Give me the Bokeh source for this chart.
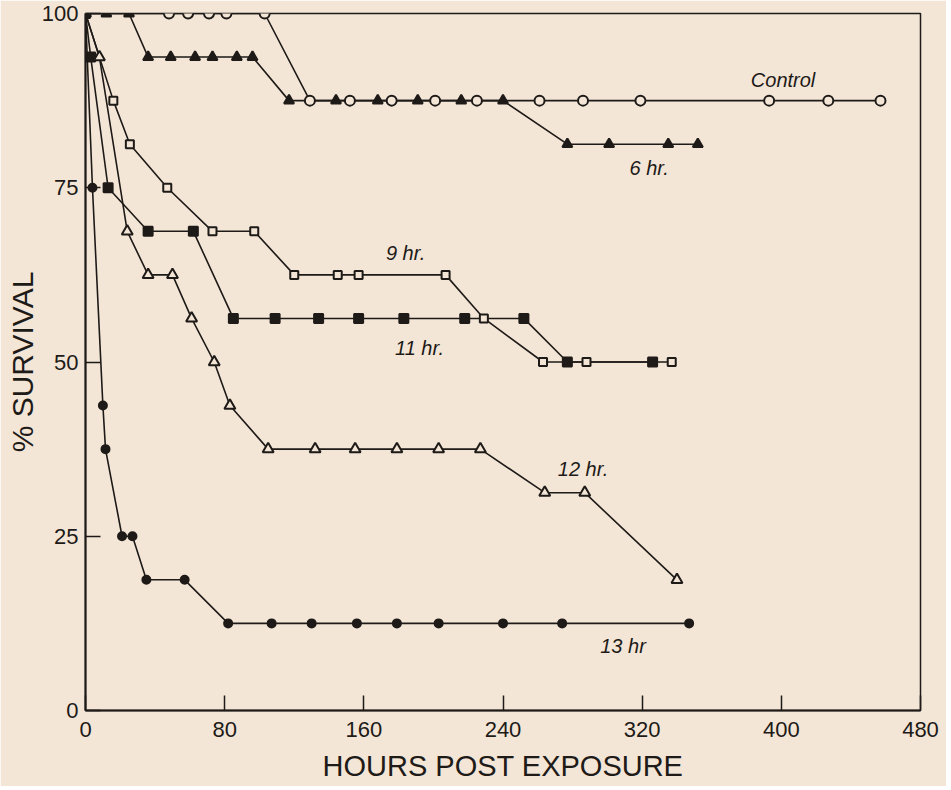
import math
from bokeh.plotting import figure
from bokeh.models import Range1d, Label, FixedTicker
from bokeh.embed import file_html
from bokeh.resources import INLINE

# ---- data (hours post exposure, % survival) ----
control_x = [0, 48, 59, 71, 81, 103, 129, 152, 176, 201, 225, 261, 286, 319, 393, 427, 457]
control_y = [100, 100, 100, 100, 100, 100, 87.5, 87.5, 87.5, 87.5, 87.5, 87.5, 87.5, 87.5, 87.5, 87.5, 87.5]

h6_x = [0, 12, 25, 36, 49, 63, 73, 87, 96, 117, 144, 168, 191, 216, 240, 277, 301, 335, 352]
h6_y = [100, 100, 100, 93.75, 93.75, 93.75, 93.75, 93.75, 93.75,
        87.5, 87.5, 87.5, 87.5, 87.5, 87.5, 81.25, 81.25, 81.25, 81.25]

h9_x = [0, 16, 25.5, 47, 73, 97, 120, 145, 157, 207, 229, 263, 288, 337]
h9_y = [100, 87.5, 81.25, 75, 68.75, 68.75, 62.5, 62.5, 62.5, 62.5, 56.25, 50, 50, 50]

h11_x = [0, 3, 13, 36, 62, 85, 109, 134, 157, 183, 218, 252, 277, 326]
h11_y = [100, 93.75, 75, 68.75, 68.75, 56.25, 56.25, 56.25, 56.25, 56.25, 56.25, 56.25, 50, 50]

h12_x = [0, 8, 24, 36, 50, 61, 74, 83, 105, 132, 155, 179, 203, 227, 264, 287, 340]
h12_y = [100, 93.75, 68.75, 62.5, 62.5, 56.25, 50, 43.75, 37.5, 37.5, 37.5, 37.5, 37.5, 37.5,
         31.25, 31.25, 18.75]

h13_x = [0, 4, 10, 11.5, 21, 27, 35, 57, 82, 107, 130, 156, 179, 203, 240, 274, 347]
h13_y = [100, 75, 43.75, 37.5, 25, 25, 18.75, 18.75, 12.5, 12.5, 12.5, 12.5, 12.5, 12.5,
         12.5, 12.5, 12.5]

label_texts = ["Control", "6 hr.", "9 hr.", "11 hr.", "12 hr.", "13 hr"]
label_x = [401, 324, 184, 192, 286, 309]
label_y = [90.4, 77.8, 65.7, 52, 34.6, 9.3]

x_ticks = [0, 80, 160, 240, 320, 400, 480]
y_ticks = [0, 25, 50, 75, 100]

BG = "#f3e6d6"
INK = "#1e1a18"
FONT = "Liberation Sans"

p = figure(width=946, height=786, output_backend="svg", toolbar_location=None,
           x_range=Range1d(0, 480), y_range=Range1d(0, 100),
           min_border_left=85, min_border_right=26, min_border_top=13, min_border_bottom=76)
p.background_fill_color = BG
p.border_fill_color = BG
p.outline_line_color = INK
p.outline_line_width = 1.5
p.grid.visible = False

for ax in (p.xaxis[0], p.yaxis[0]):
    ax.axis_line_color = INK
    ax.axis_line_width = 2
    ax.major_tick_in = 15
    ax.major_tick_out = 0
    ax.major_tick_line_color = INK
    ax.major_tick_line_width = 1.5
    ax.minor_tick_line_color = None
    ax.major_label_text_font = FONT
    ax.major_label_text_font_size = "22px"
    ax.major_label_text_color = INK
    ax.major_label_text_font_style = "normal"
    ax.axis_label_text_font = FONT
    ax.axis_label_text_font_style = "normal"
    ax.axis_label_text_color = INK

p.xaxis.ticker = FixedTicker(ticks=x_ticks)
p.yaxis.ticker = FixedTicker(ticks=y_ticks)
p.xaxis.major_label_standoff = 11
p.yaxis.major_label_standoff = 7
p.xaxis.axis_label = "HOURS POST EXPOSURE"
p.xaxis.axis_label_text_font_size = "29px"
p.xaxis.axis_label_standoff = 10
p.yaxis.axis_label = "% SURVIVAL"
p.yaxis.axis_label_text_font_size = "30px"
p.yaxis.axis_label_standoff = 0

LW = 1.6
series = [
    (control_x, control_y, "circle", 10, False),
    (h6_x, h6_y, "triangle", 10, True),
    (h9_x, h9_y, "square", 8, False),
    (h11_x, h11_y, "square", 9, True),
    (h12_x, h12_y, "triangle", 11, False),
    (h13_x, h13_y, "circle", 8, True),
]
for xs, ys, mk, sz, filled in series:
    p.line(xs, ys, line_color=INK, line_width=LW)
for xs, ys, mk, sz, filled in series:
    p.scatter(xs, ys, marker=mk, size=sz, line_color=INK, line_width=2,
              fill_color=INK if filled else BG)

for t, lx, ly in zip(label_texts, label_x, label_y):
    p.add_layout(Label(x=lx, y=ly, text=t, text_align="center", text_baseline="middle",
                       text_font=FONT, text_font_style="italic", text_font_size="20px",
                       text_color=INK))

open("out.html", "w").write(file_html(p, INLINE))
